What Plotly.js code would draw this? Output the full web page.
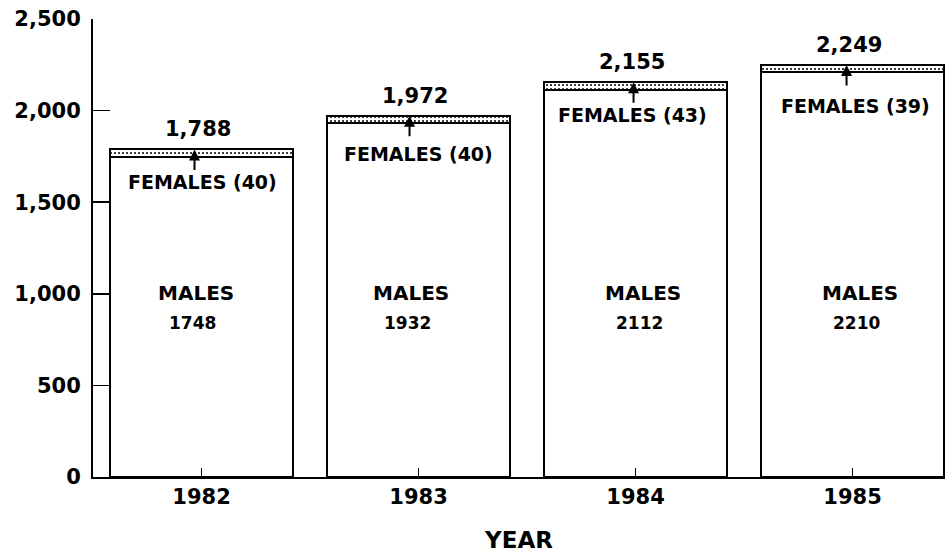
<!DOCTYPE html>
<html>
<head>
<meta charset="utf-8">
<script src="https://cdn.plot.ly/plotly-3.0.1.min.js"></script>
<style>html,body{margin:0;padding:0;background:#fff;}#chart{width:949px;height:553px;}</style>
</head>
<body>
<div id="chart"></div>
<script>
const years = ['1982', '1983', '1984', '1985'];
const males = [1748, 1932, 2112, 2210];
const females = [40, 40, 43, 39];
const totals = [1788, 1972, 2155, 2249];
const yTickVals = [0, 500, 1000, 1500, 2000, 2500];

// label placement offsets (pixels)
const arrowShift = [-7, -9, -2, -6];
const femLabelDrop = [33, 38, 33, 41];
const femLabelShift = [1, 0, -3, 3];
const maleLabelShift = [-6, -8, 7, 7];

const FONT = 'DejaVu Sans, Liberation Sans, Arial, sans-serif';

const traces = [
  {
    type: 'bar', x: years, y: males, name: 'MALES', width: 0.843,
    marker: {color: 'white', line: {color: 'black', width: 2}},
    hoverinfo: 'skip'
  },
  {
    type: 'bar', x: years, y: females, name: 'FEMALES', width: 0.843,
    marker: {color: 'white', line: {color: 'black', width: 2},
      pattern: {shape: '.', size: 4, solidity: 0.2, fgcolor: 'black', bgcolor: 'white'}},
    hoverinfo: 'skip'
  }
];

const annotations = [];
years.forEach((yr, i) => {
  annotations.push({
    x: i, y: totals[i], xref: 'x', yref: 'y',
    text: totals[i].toLocaleString('en-US'), showarrow: false,
    yanchor: 'middle', yshift: 20, xshift: -4,
    font: {family: FONT, size: 21, color: 'black', weight: 'bold'}
  });
  annotations.push({
    x: i, y: totals[i], xref: 'x', yref: 'y',
    text: '', showarrow: true, ax: 0, ay: 22,
    arrowhead: 2, arrowsize: 1.1, arrowwidth: 2, arrowcolor: 'black',
    xshift: arrowShift[i], standoff: 0
  });
  annotations.push({
    x: i, y: totals[i], xref: 'x', yref: 'y',
    text: 'FEMALES (' + females[i] + ')', showarrow: false,
    yanchor: 'middle', yshift: -femLabelDrop[i], xshift: femLabelShift[i],
    font: {family: FONT, size: 19, color: 'black', weight: 'bold'}
  });
  annotations.push({
    x: i, y: 1005, xref: 'x', yref: 'y',
    text: 'MALES', showarrow: false, yanchor: 'middle', xshift: maleLabelShift[i],
    font: {family: FONT, size: 20, color: 'black', weight: 'bold'}
  });
  annotations.push({
    x: i, y: 840, xref: 'x', yref: 'y',
    text: String(males[i]), showarrow: false, yanchor: 'middle', xshift: maleLabelShift[i] - 3,
    font: {family: FONT, size: 17, color: 'black', weight: 'bold'}
  });
});

const layout = {
  width: 949, height: 553,
  margin: {l: 93, r: 4, t: 19, b: 76},
  paper_bgcolor: 'white', plot_bgcolor: 'white',
  barmode: 'stack', showlegend: false,
  xaxis: {
    type: 'category', range: [-0.5, 3.426],
    showline: true, linecolor: 'black', linewidth: 2,
    ticks: 'inside', ticklen: 9, tickwidth: 1.5, tickcolor: 'black',
    showgrid: false, zeroline: false,
    tickfont: {family: FONT, size: 21, color: 'black', weight: 'bold'},
    title: {text: 'YEAR', font: {family: FONT, size: 23, color: 'black', weight: 'bold'}, standoff: 25}
  },
  yaxis: {
    range: [0, 2500], tickvals: yTickVals, tickformat: ',d',
    showline: true, linecolor: 'black', linewidth: 2,
    ticks: 'inside', ticklen: 17, tickwidth: 1.5, tickcolor: 'black',
    showgrid: false, zeroline: false, ticklabelstandoff: 6,
    tickfont: {family: FONT, size: 21, color: 'black', weight: 'bold'}
  },
  annotations: annotations
};

Plotly.newPlot('chart', traces, layout, {displayModeBar: false, staticPlot: true});
</script>
</body>
</html>
